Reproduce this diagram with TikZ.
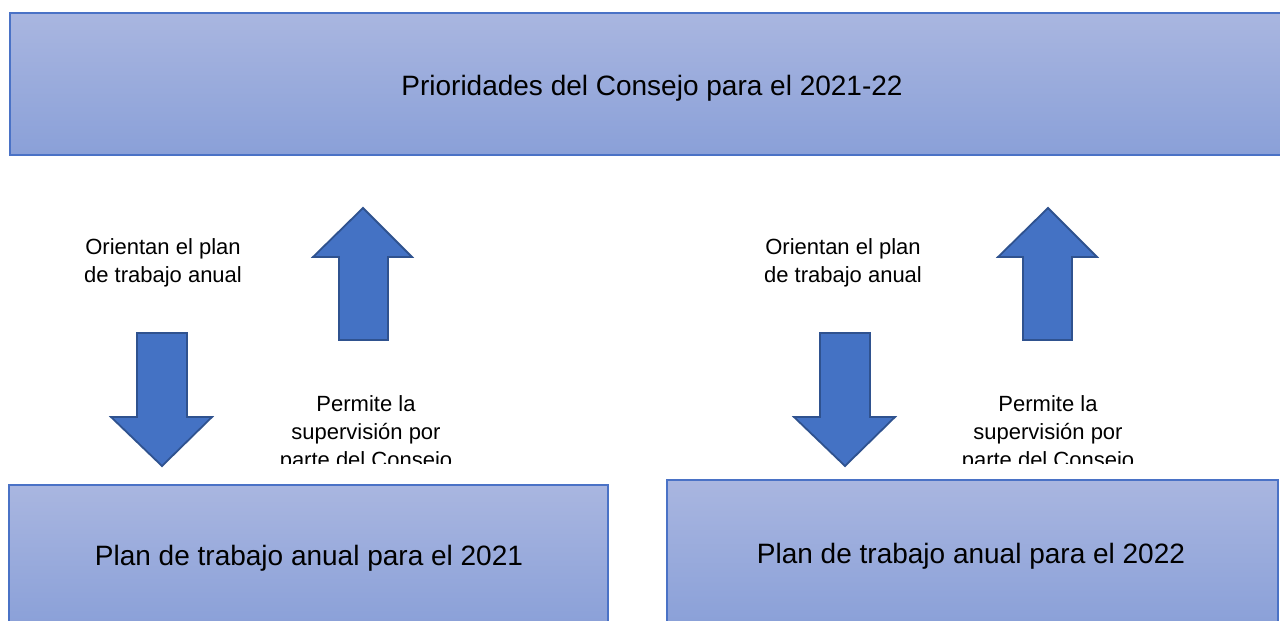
\documentclass[tikz,border=0pt]{standalone}
\usepackage{fontspec}
\setmainfont{Liberation Sans}
\definecolor{boxtop}{HTML}{A9B6E0}
\definecolor{boxbot}{HTML}{8AA0D8}
\definecolor{boxline}{HTML}{4A72C6}
\definecolor{arrfill}{HTML}{4472C4}
\definecolor{arrline}{HTML}{2F528F}
\tikzset{
  bigbox/.style={draw=boxline, line width=1.3pt, top color=boxtop, bottom color=boxbot,
    inner sep=0pt, font=\fontsize{28}{34}\selectfont, text=black},
  bigtext/.style={inner sep=0pt, font=\fontsize{28}{34}\selectfont, text=black},
  smalltext/.style={align=center, inner sep=0pt, font=\fontsize{22}{28}\selectfont, text=black},
  blockarrow/.style={fill=arrfill, draw=arrline, line width=1.8pt, line join=miter}
}
\begin{document}
\begin{tikzpicture}[x=1pt,y=-1pt]
\useasboundingbox (0,0) rectangle (1280,621);
\clip (0,0) rectangle (1280,621);
\fill[white] (0,0) rectangle (1280,621);
% boxes
\node[bigbox, minimum width=1284pt, minimum height=142pt] (top) at (652,84) {};
\node[bigtext] at (652,88) (toptext) {Prioridades del Consejo para el 2021-22};
\node[bigbox, minimum width=599pt, minimum height=142pt] (planA) at (308.5,556) {};
\node[bigtext] at (309,558) (planAtext) {Plan de trabajo anual para el 2021};
\node[bigbox, minimum width=611pt, minimum height=146pt] (planB) at (972.5,553) {};
\node[bigtext] at (971,556) (planBtext) {Plan de trabajo anual para el 2022};
% arrows
\draw[blockarrow] (137,333) -- (187,333) -- (187,417) -- (212,417) -- (162,466) -- (111,417) -- (137,417) -- cycle;
\draw[blockarrow] (339,340) -- (388,340) -- (388,257) -- (412,257) -- (363,208) -- (313,257) -- (339,257) -- cycle;
\draw[blockarrow] (820,333) -- (870,333) -- (870,417) -- (895,417) -- (845,466) -- (794,417) -- (820,417) -- cycle;
\draw[blockarrow] (1023,340) -- (1072,340) -- (1072,257) -- (1097,257) -- (1048,208) -- (998,257) -- (1023,257) -- cycle;
% labels
\node[smalltext] (oA) at (163,263) {Orientan el plan\\de trabajo anual};
\node[smalltext] (oB) at (843,263) {Orientan el plan\\de trabajo anual};
\begin{scope}
\clip (250,380) rectangle (1200,463);
\node[smalltext, anchor=north] (pA) at (366,395) {Permite la\\supervisión por\\parte del Consejo};
\node[smalltext, anchor=north] (pB) at (1048,395) {Permite la\\supervisión por\\parte del Consejo};
\end{scope}
\end{tikzpicture}
\end{document}
